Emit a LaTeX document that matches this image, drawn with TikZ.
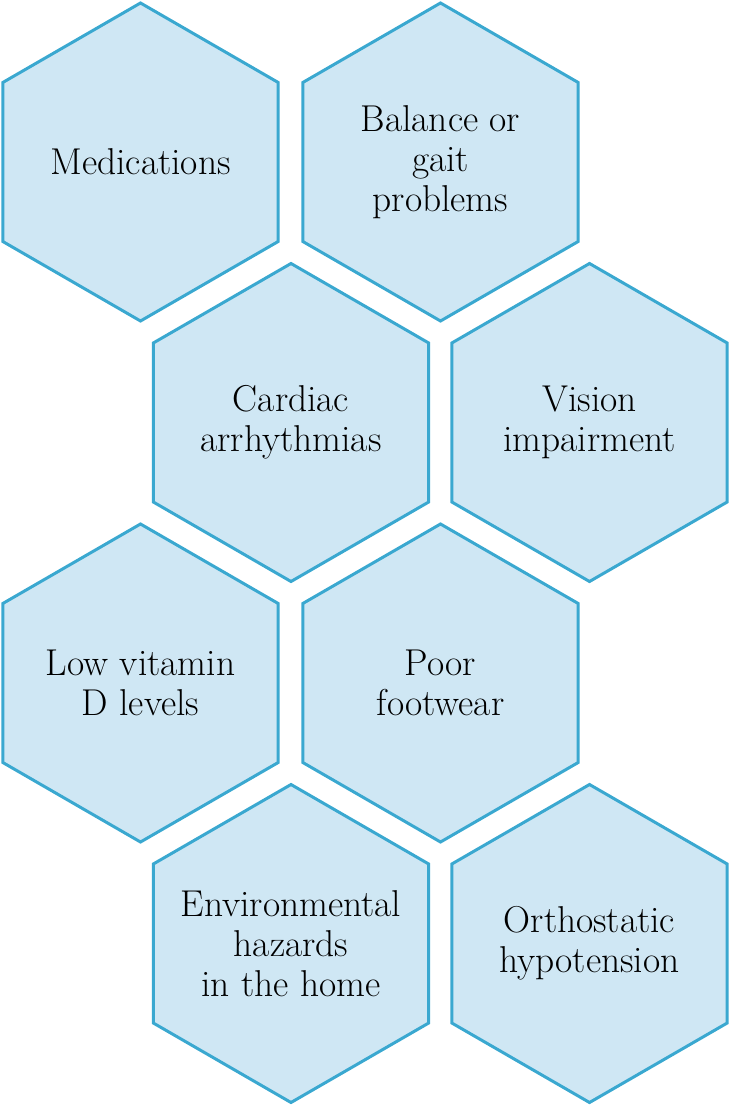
\documentclass[tikz,border=0pt]{standalone}
\usetikzlibrary{shapes.geometric}
\definecolor{hexfill}{HTML}{CFE7F4}
\definecolor{hexline}{HTML}{3AA8D0}
\begin{document}
\begin{tikzpicture}[x=0.5pt,y=-0.5pt]
\tikzstyle{hexa}=[regular polygon, regular polygon sides=6, regular polygon rotate=30,
  minimum size=159pt, inner sep=-30pt, draw=hexline, fill=hexfill, line width=1.5pt,
  align=center, text=black, font=\fontsize{18.7}{20}\selectfont]
\useasboundingbox (0,0) rectangle (730,1106);
% first row
\node[hexa] (med) at (140.5,162) {Medications};
\node[hexa] (gait) at (440.5,162) {Balance or\\gait\\problems};
% second row
\node[hexa] (card) at (291,422.5) {Cardiac\\arrhythmias};
\node[hexa] (vis) at (589.5,422.5) {Vision\\impairment};
% third row
\node[hexa] (vitd) at (140.5,683) {Low vitamin\\D levels};
\node[hexa] (foot) at (440.5,683) {Poor\\footwear};
% fourth row
\node[hexa] (env) at (291,943.5) {Environmental\\hazards\\in the home};
\node[hexa] (orth) at (589.5,943.5) {Orthostatic\\hypotension};
\end{tikzpicture}
\end{document}
